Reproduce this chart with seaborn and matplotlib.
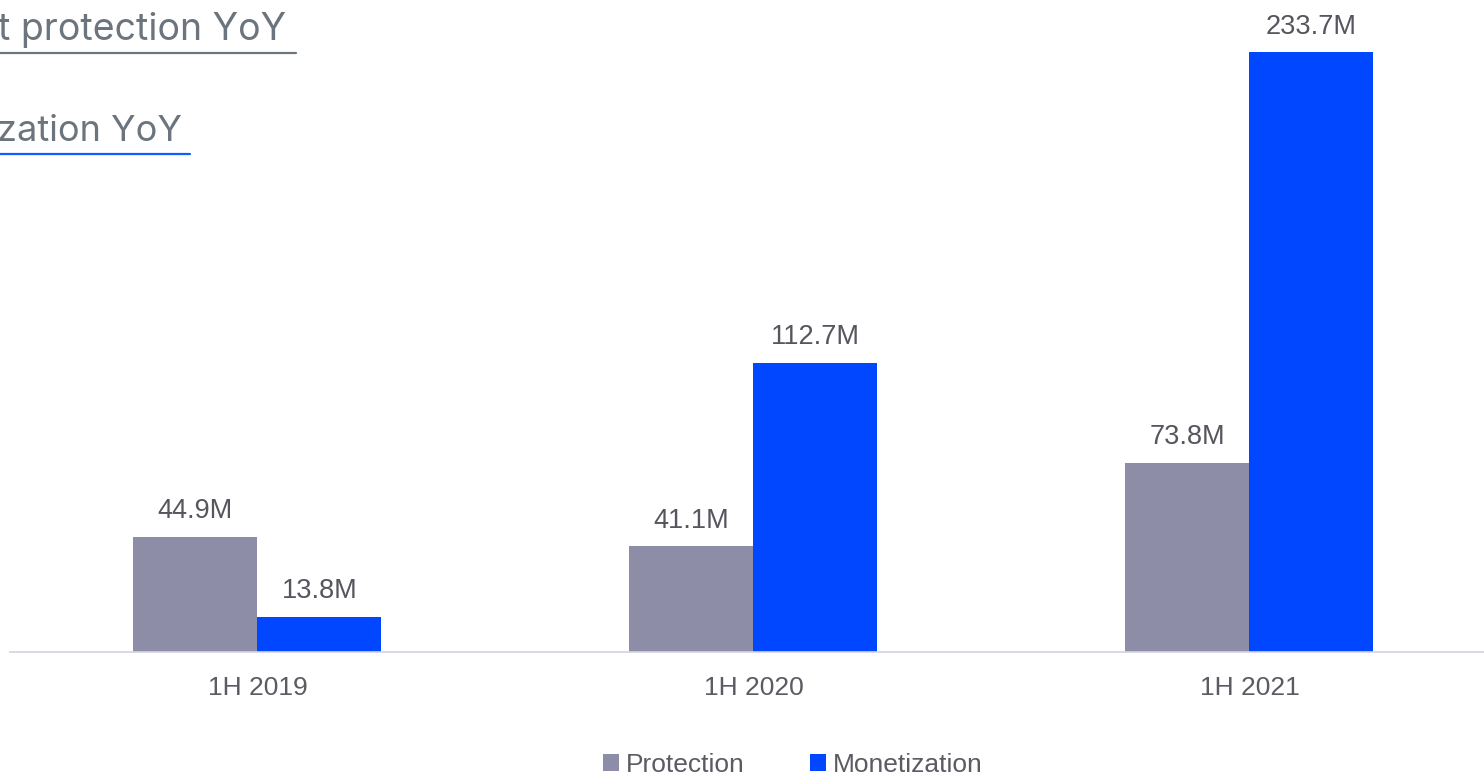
import matplotlib
matplotlib.use("Agg")
import matplotlib.pyplot as plt
import seaborn as sns
import pandas as pd
from matplotlib.lines import Line2D

periods = ["1H 2019", "1H 2020", "1H 2021"]
protection = [44.9, 41.1, 73.8]
monetization = [13.8, 112.7, 233.7]
series_names = ["Protection", "Monetization"]
colors = ["#8E8DA8", "#0047FF"]

df = pd.DataFrame({
    "period": periods * 2,
    "value": protection + monetization,
    "series": [series_names[0]] * 3 + [series_names[1]] * 3,
})

sns.set_theme(style="white")
plt.rcParams["font.family"] = ["Liberation Sans", "DejaVu Sans"]

W, H = 1484, 776
fig = plt.figure(figsize=(W / 100, H / 100), dpi=100)
ax = fig.add_axes([9.5 / W, 124 / H, 1488 / W, 652 / H])

sns.barplot(data=df, x="period", y="value", hue="series", order=periods,
            hue_order=series_names, palette=colors, width=0.5, gap=0,
            saturation=1, linewidth=0, ax=ax, legend=True)

ax.set_xlim(-0.5, 2.5)
ax.set_ylim(0, 254)
ax.set_xlabel("")
ax.set_ylabel("")
ax.set_yticks([])
for s in ["top", "left", "right"]:
    ax.spines[s].set_visible(False)
ax.spines["bottom"].set_color("#D3D3E0")
ax.spines["bottom"].set_linewidth(1.2)
ax.tick_params(axis="x", length=0, pad=17, labelsize=19, labelcolor="#5A5B63")

for cont in ax.containers:
    vals = [b.get_height() for b in cont]
    ax.bar_label(cont, labels=[f"{v:.1f}M" for v in vals], padding=9,
                 fontsize=19.5, color="#55565E")

handles, labels = ax.get_legend_handles_labels()
ax.legend_.remove()
fig.legend(handles, labels, loc="center", bbox_to_anchor=(793 / W, 1 - 765 / H),
           ncol=2, frameon=False, fontsize=19, handlelength=0.6, handleheight=0.6,
           handletextpad=0.25, columnspacing=2.5, labelcolor="#5A5B63")

# Cut-off header texts (cut at the left edge as in the reference)
fig.text(-2 / W, 1 - 40 / H, "t protection YoY", fontsize=27, color="#6C757D",
         va="baseline", ha="left", family=["Inter", "DejaVu Sans"])
fig.text(-3 / W, 1 - 141 / H, "zation YoY", fontsize=26, color="#6C757D",
         va="baseline", ha="left", family=["Inter", "DejaVu Sans"])
fig.add_artist(Line2D([0, 296 / W], [1 - 53 / H, 1 - 53 / H], color="#6C757D",
                      lw=1.6, transform=fig.transFigure))
fig.add_artist(Line2D([0, 190 / W], [1 - 154 / H, 1 - 154 / H], color="#0D5EFD",
                      lw=1.6, transform=fig.transFigure))

fig.savefig("out.png", dpi=100)
